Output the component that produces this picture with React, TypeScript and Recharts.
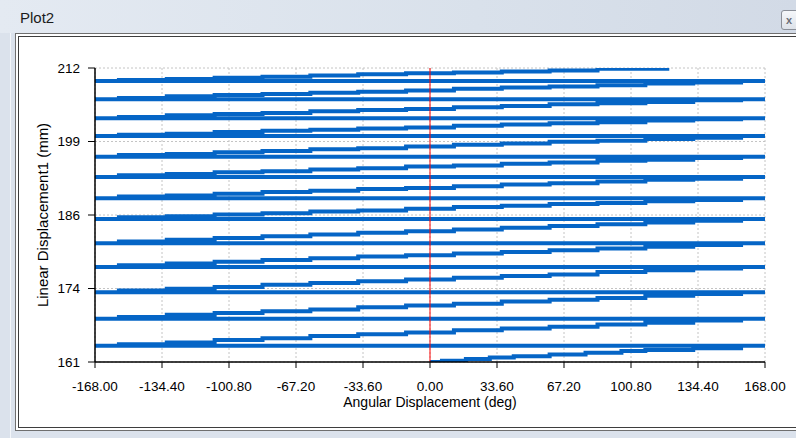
import {
  CartesianGrid,
  Line,
  LineChart,
  ReferenceLine,
  XAxis,
  YAxis,
} from "recharts";

const X_TICKS = [-168, -134.4, -100.8, -67.2, -33.6, 0, 33.6, 67.2, 100.8, 134.4, 168];
const X_MINOR_TICKS = [-151.2, -117.6, -84, -50.4, -16.8, 16.8, 50.4, 84, 117.6, 151.2];
const Y_TICKS = [161, 173.75, 186.5, 199.25, 212];
const Y_TICK_LABELS = ["161", "174", "186", "199", "212"];
const Y_MINOR_TICKS = [167.375, 180.125, 192.875, 205.625];

// first half turn, starts at 0 deg
const START_ANGLES = [0, 6, 18, 30, 42, 60, 78, 96, 108, 132, 156, 180];
const START_VALUES = [161.0, 161.2, 161.5, 161.8, 162.0, 162.3, 162.6, 162.9, 163.1, 163.4, 163.8, 163.8];

// full turns: reading after each step, angle wraps 180 -> -180
const TURN_ANGLES = [-180, -156, -132, -108, -84, -60, -36, -12, 12, 36, 60, 84, 108, 132, 156];
const WRAP_ANGLE = 180;
const TURN_VALUES = [
  [163.8, 164.1, 164.4, 164.8, 165.1, 165.5, 165.8, 166.1, 166.5, 166.8, 167.1, 167.5, 167.8, 168.2, 168.5],
  [168.5, 168.8, 169.2, 169.5, 169.8, 170.1, 170.5, 170.8, 171.1, 171.5, 171.8, 172.1, 172.5, 172.8, 173.1],
  [173.1, 173.4, 173.7, 174.0, 174.4, 174.7, 175.0, 175.3, 175.6, 175.9, 176.2, 176.6, 176.9, 177.2, 177.5],
  [177.5, 177.8, 178.1, 178.4, 178.7, 179.0, 179.3, 179.5, 179.8, 180.1, 180.4, 180.7, 181.0, 181.3, 181.6],
  [181.6, 181.9, 182.2, 182.5, 182.8, 183.1, 183.4, 183.7, 184.0, 184.3, 184.6, 184.9, 185.2, 185.5, 185.8],
  [185.8, 186.1, 186.3, 186.6, 186.8, 187.1, 187.3, 187.6, 187.9, 188.1, 188.4, 188.6, 188.9, 189.1, 189.4],
  [189.4, 189.7, 189.9, 190.2, 190.5, 190.7, 191.0, 191.2, 191.5, 191.8, 192.0, 192.3, 192.6, 192.8, 193.1],
  [193.1, 193.4, 193.6, 193.9, 194.1, 194.4, 194.6, 194.9, 195.1, 195.4, 195.6, 195.9, 196.1, 196.4, 196.6],
  [196.6, 196.9, 197.1, 197.4, 197.6, 197.9, 198.1, 198.4, 198.7, 198.9, 199.2, 199.4, 199.7, 199.9, 200.2],
  [200.2, 200.4, 200.6, 200.9, 201.1, 201.3, 201.5, 201.7, 202.0, 202.2, 202.4, 202.6, 202.9, 203.1, 203.3],
  [203.3, 203.5, 203.8, 204.0, 204.2, 204.5, 204.7, 204.9, 205.2, 205.4, 205.7, 205.9, 206.1, 206.4, 206.6],
  [206.6, 206.8, 207.1, 207.3, 207.5, 207.7, 207.9, 208.1, 208.4, 208.6, 208.8, 209.0, 209.3, 209.5, 209.75],
];

// last partial turn, stops near 120 deg
const END_ANGLES = [-180, -156, -132, -108, -84, -60, -36, -12, 12, 36, 60, 84, 120];
const END_VALUES = [209.75, 209.9, 210.1, 210.3, 210.5, 210.7, 210.9, 211.1, 211.2, 211.4, 211.55, 211.85, 211.85];

type Point = { ang: number; lin: number };

const data: Point[] = [];
START_ANGLES.forEach((a, i) => data.push({ ang: a, lin: START_VALUES[i] }));
TURN_VALUES.forEach((row) => {
  row.forEach((v, i) => data.push({ ang: TURN_ANGLES[i], lin: v }));
  data.push({ ang: WRAP_ANGLE, lin: row[row.length - 1] });
});
END_ANGLES.forEach((a, i) => data.push({ ang: a, lin: END_VALUES[i] }));

const FONT = '"Liberation Sans", Arial, sans-serif';

function YLabel(props: any) {
  const vb = props.viewBox || { x: 35, y: 68, width: 60, height: 294 };
  const x = vb.x + 7;
  const y = vb.y + vb.height / 2;
  return (
    <text
      x={x}
      y={y}
      transform={`rotate(-90 ${x} ${y})`}
      textAnchor="middle"
      dominantBaseline="central"
      fontSize={15}
      fontFamily={FONT}
      fill="#000"
    >
      Linear Displacement1 (mm)
    </text>
  );
}

export default function App() {
  return (
    <div
      style={{
        position: "fixed",
        left: 0,
        top: 0,
        width: 796,
        height: 438,
        overflow: "hidden",
        background: "#dbe2ec",
        fontFamily: FONT,
      }}
    >
      {/* title bar */}
      <div
        style={{
          position: "absolute",
          left: 0,
          top: 0,
          width: 796,
          height: 33,
          background: "linear-gradient(90deg, #e4eaf2 0%, #d9e1eb 60%, #d2dae6 100%)",
        }}
      />
      <div style={{ position: "absolute", left: 10, top: 33, width: 1, height: 405, background: "#f3f6fa" }} />
      <div
        style={{
          position: "absolute",
          left: 20,
          top: 9,
          fontSize: 15,
          lineHeight: "18px",
          color: "#1b1b1b",
        }}
      >
        Plot2
      </div>
      <div
        style={{
          position: "absolute",
          left: 781,
          top: 10,
          width: 22,
          height: 20,
          border: "1px solid #8a8f98",
          borderRadius: 3,
          background: "linear-gradient(#f5f7fa, #dde2e9)",
          fontSize: 11,
          fontWeight: "bold",
          lineHeight: "19px",
          color: "#6a6f78",
          paddingLeft: 4,
          boxSizing: "border-box",
        }}
      >
        x
      </div>

      {/* panel */}
      <div
        style={{
          position: "absolute",
          left: 15,
          top: 33,
          width: 800,
          height: 398,
          boxSizing: "border-box",
          border: "1px solid #6f6f6f",
          background: "#fff",
        }}
      >
        <div
          style={{
            position: "absolute",
            left: 2,
            top: 2,
            right: 2,
            bottom: 2,
            border: "1px solid #3e3e3e",
          }}
        />
      </div>

      <div style={{ position: "absolute", left: 0, top: 0 }}>
        <LineChart
          width={796}
          height={438}
          data={data}
          margin={{ top: 68, right: 31, bottom: 26, left: 35 }}
        >
          <CartesianGrid stroke="#c4c4c4" strokeDasharray="2 2" />
          <XAxis
            dataKey="ang"
            type="number"
            domain={[-168, 168]}
            ticks={X_TICKS}
            interval={0}
            allowDataOverflow
            tickFormatter={(v: number) => v.toFixed(2)}
            tick={{ fill: "#000", fontSize: 13.5, fontFamily: FONT }}
            tickSize={6}
            tickMargin={13}
            tickLine={{ stroke: "#000" }}
            axisLine={{ stroke: "#000", strokeWidth: 1.5 }}
            height={50}
            label={{
              value: "Angular Displacement (deg)",
              position: "insideBottom",
              offset: 5,
              fill: "#000",
              fontSize: 14,
              fontFamily: FONT,
            }}
          />
          <XAxis
            xAxisId="minor"
            type="number"
            domain={[-168, 168]}
            ticks={X_MINOR_TICKS}
            interval={0}
            mirror
            height={0}
            axisLine={false}
            tickSize={4}
            tickLine={{ stroke: "#000" }}
            tickFormatter={() => ""}
          />
          <XAxis
            xAxisId="top"
            orientation="top"
            type="number"
            domain={[-168, 168]}
            height={0}
            tick={false}
            tickLine={false}
            axisLine={{ stroke: "#000", strokeWidth: 1.5 }}
          />
          <YAxis
            type="number"
            domain={[161, 212]}
            ticks={Y_TICKS}
            interval={0}
            allowDataOverflow
            width={60}
            tickFormatter={(v: number) => Y_TICK_LABELS[Y_TICKS.indexOf(v)] ?? String(v)}
            tick={{ fill: "#000", fontSize: 13.5, fontFamily: FONT }}
            tickSize={7}
            tickMargin={8}
            tickLine={{ stroke: "#000" }}
            axisLine={{ stroke: "#000", strokeWidth: 1.5 }}
            label={{ content: YLabel }}
          />
          <YAxis
            yAxisId="minor"
            type="number"
            domain={[161, 212]}
            ticks={Y_MINOR_TICKS}
            interval={0}
            mirror
            width={0}
            axisLine={false}
            tickSize={4}
            tickLine={{ stroke: "#000" }}
            tickFormatter={() => ""}
          />
          <YAxis
            yAxisId="right"
            orientation="right"
            type="number"
            domain={[161, 212]}
            width={0}
            tick={false}
            tickLine={false}
            axisLine={{ stroke: "#000", strokeWidth: 1.5 }}
          />
          <Line
            dataKey="lin"
            type="stepAfter"
            stroke="#0565c6"
            strokeWidth={4}
            dot={false}
            activeDot={false}
            isAnimationActive={false}
          />
          <ReferenceLine x={0} stroke="#ff0000" strokeWidth={1} />
        </LineChart>
      </div>
    </div>
  );
}
